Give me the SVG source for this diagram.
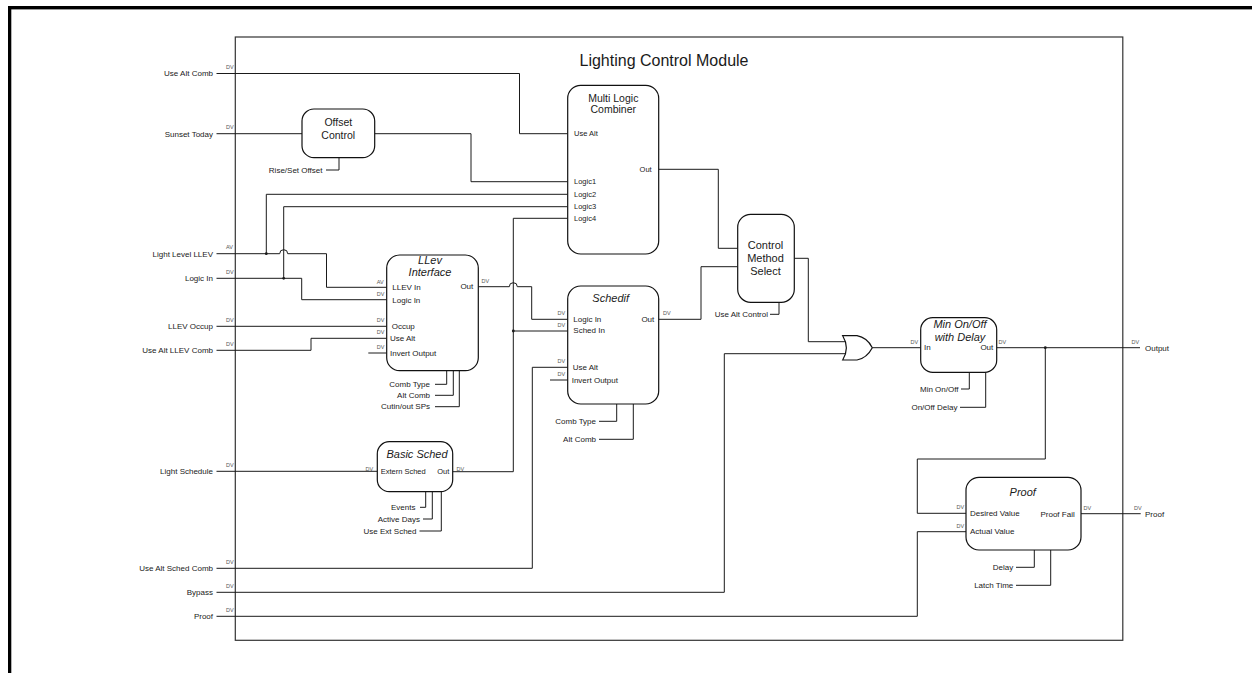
<svg xmlns="http://www.w3.org/2000/svg" width="1252" height="673" viewBox="0 0 1252 673">
<style>
text{font-family:"Liberation Sans",Arial,sans-serif;fill:#1a1a1a}
.l{font-size:8px}
.le{font-size:8px;text-anchor:end}
.pe{font-size:7.5px}
.dv{font-size:5.5px;fill:#555}
.t{font-size:10.5px;text-anchor:middle}
.ti{font-size:11px;text-anchor:middle;font-style:italic}
.ttl{font-size:16px;text-anchor:middle}
.box{fill:#fff;stroke:#111;stroke-width:1.2}
.w{fill:none;stroke:#1a1a1a;stroke-width:1}
.dot{fill:#1a1a1a}
</style>
<rect width="1252" height="673" fill="#fff"/>
<g id="frame">
<rect x="8" y="6" width="1244" height="3.4" fill="#000"/>
<rect x="8" y="6" width="3.3" height="667" fill="#000"/>
<rect x="235.3" y="37" width="887.5" height="603.3" fill="none" stroke="#333" stroke-width="1.2"/>
<text class="ttl" x="664" y="66">Lighting Control Module</text>
</g>
<g id="connectors">
<path class="w" d="M216.5 73.5 H519.5 V133.7 H567.7"/>
<path class="w" d="M216.5 133.7 H302"/>
<path class="w" d="M374.7 133.7 H471 V181.7 H567.7"/>
<path class="w" d="M326 170 H339 V157.7"/>
<path class="w" d="M216.5 253.7 H279.7 A4 4 0 0 1 287.7 253.7 H326.5 V287.3 H386.7"/>
<path class="w" d="M266.3 253.7 V194.3 H567.7"/>
<path class="w" d="M216.5 278.3 H301.7 V299.7 H386.7"/>
<path class="w" d="M283.7 278.3 V206.7 H567.7"/>
<path class="w" d="M216.5 326.3 H386.7"/>
<path class="w" d="M216.5 350.3 H311 V338.3 H386.7"/>
<path class="w" d="M368.3 353 H386.7"/>
<path class="w" d="M435 384.3 H446.7 V370.7"/>
<path class="w" d="M435 395.3 H453.3 V370.7"/>
<path class="w" d="M435 406.7 H459.3 V370.7"/>
<path class="w" d="M478.3 286.7 H509.3 A4 4 0 0 1 517.3 286.7 H531.7 V319.3 H567.7"/>
<path class="w" d="M452.7 471.7 H513.3 V218.3 H567.7"/>
<path class="w" d="M513.3 331 H567.7"/>
<path class="w" d="M216.5 471.3 H377.3"/>
<path class="w" d="M420 507.3 H425.7 V491.7"/>
<path class="w" d="M423 519 H432.3 V491.7"/>
<path class="w" d="M419.5 531 H441.3 V491.7"/>
<path class="w" d="M658.7 319.3 H701 V266.7 H737.7"/>
<path class="w" d="M216.5 568.3 H532.3 V367.3 H567.7"/>
<path class="w" d="M550 380 H567.7"/>
<path class="w" d="M599 421.3 H616.7 V404"/>
<path class="w" d="M599 439.3 H633.3 V404"/>
<path class="w" d="M658.7 169.3 H718.3 V248.3 H737.7"/>
<path class="w" d="M794.3 258.3 H808.3 V341.7 H846.5"/>
<path class="w" d="M770 314.3 H779 V302.3"/>
<path class="w" d="M216.5 592.3 H724.3 V353.7 H846.5"/>
<path class="w" d="M872.3 347.7 H920.7"/>
<path class="w" d="M961 389 H969.3 V372.3"/>
<path class="w" d="M960 407.3 H985.7 V372.3"/>
<path class="w" d="M996.7 347.7 H1140"/>
<path class="w" d="M1045.3 347.7 V459 H917.3 V513.3 H966"/>
<path class="w" d="M216.5 616.3 H917.3 V531.7 H966"/>
<path class="w" d="M1081 513.7 H1140.7"/>
<path class="w" d="M1016 567.3 H1034.3 V550"/>
<path class="w" d="M1016 585.3 H1050.7 V550"/>
<circle class="dot" cx="266.3" cy="253.7" r="1.4"/>
<circle class="dot" cx="283.7" cy="278.3" r="1.4"/>
<circle class="dot" cx="513.3" cy="331" r="1.4"/>
<circle class="dot" cx="1045.3" cy="347.7" r="1.4"/>
</g>
<g id="inputs">
<text class="le" x="213" y="76.3">Use Alt Comb</text>
<text class="le" x="213" y="136.5">Sunset Today</text>
<text class="le" x="213" y="256.5">Light Level LLEV</text>
<text class="le" x="213" y="281.1">Logic In</text>
<text class="le" x="213" y="329.1">LLEV Occup</text>
<text class="le" x="213" y="353.1">Use Alt LLEV Comb</text>
<text class="le" x="213" y="474.1">Light Schedule</text>
<text class="le" x="213" y="571.1">Use Alt Sched Comb</text>
<text class="le" x="213" y="595.1">Bypass</text>
<text class="le" x="213" y="619.1">Proof</text>
<text class="dv" x="226" y="69">DV</text>
<text class="dv" x="226" y="129">DV</text>
<text class="dv" x="226" y="249">AV</text>
<text class="dv" x="226" y="274">DV</text>
<text class="dv" x="226" y="322">DV</text>
<text class="dv" x="226" y="346">DV</text>
<text class="dv" x="226" y="467">DV</text>
<text class="dv" x="226" y="564">DV</text>
<text class="dv" x="226" y="588">DV</text>
<text class="dv" x="226" y="612">DV</text>
</g>
<g id="outputs">
<text class="dv" x="1131.5" y="343.5">DV</text>
<text class="l" x="1145" y="350.5">Output</text>
<text class="dv" x="1134" y="509.5">DV</text>
<text class="l" x="1145" y="516.5">Proof</text>
</g>
<g id="offset-control">
<rect class="box" x="302" y="109" width="72.7" height="48.7" rx="12"/>
<text class="t" x="338.3" y="125.5">Offset</text>
<text class="t" x="338.3" y="138.8">Control</text>
<text class="le" x="322.5" y="172.7">Rise/Set Offset</text>
</g>
<g id="multi-logic-combiner">
<rect class="box" x="567.7" y="85.3" width="91" height="168.7" rx="13"/>
<text class="t" x="613.3" y="102">Multi Logic</text>
<text class="t" x="613.3" y="113">Combiner</text>
<text class="pe" x="574" y="136.4">Use Alt</text>
<text class="pe" x="651.7" y="172" text-anchor="end">Out</text>
<text class="pe" x="574" y="184.4">Logic1</text>
<text class="pe" x="574" y="197">Logic2</text>
<text class="pe" x="574" y="209.4">Logic3</text>
<text class="pe" x="574" y="221">Logic4</text>
</g>
<g id="llev-interface">
<rect class="box" x="386.7" y="255" width="91.6" height="115.7" rx="13"/>
<text class="ti" x="430" y="264">LLev</text>
<text class="ti" x="430" y="276.3">Interface</text>
<text class="l" x="392.3" y="290">LLEV In</text>
<text class="l" x="392.3" y="302.6">Logic In</text>
<text class="l" x="391.7" y="328.5">Occup</text>
<text class="l" x="390" y="341">Use Alt</text>
<text class="l" x="390" y="356">Invert Output</text>
<text class="l" x="473.3" y="289.4" text-anchor="end">Out</text>
<text class="dv" x="376.7" y="283.5">AV</text>
<text class="dv" x="376.7" y="295.7">DV</text>
<text class="dv" x="376.7" y="322.3">DV</text>
<text class="dv" x="376.7" y="334.3">DV</text>
<text class="dv" x="376.7" y="349">DV</text>
<text class="dv" x="481.5" y="282.7">DV</text>
<text class="le" x="430" y="387">Comb Type</text>
<text class="le" x="430" y="398">Alt Comb</text>
<text class="le" x="430" y="409.4">Cutin/out SPs</text>
</g>
<g id="schedif">
<rect class="box" x="567.7" y="286" width="91" height="118" rx="13"/>
<text class="ti" x="610.7" y="302">Schedif</text>
<text class="l" x="573.3" y="321.5">Logic In</text>
<text class="l" x="573.3" y="333">Sched In</text>
<text class="l" x="572.7" y="369.7">Use Alt</text>
<text class="l" x="571.7" y="383">Invert Output</text>
<text class="l" x="654.3" y="321.5" text-anchor="end">Out</text>
<text class="dv" x="557.5" y="315.3">DV</text>
<text class="dv" x="557.5" y="327">DV</text>
<text class="dv" x="557.5" y="363.3">DV</text>
<text class="dv" x="557.5" y="376">DV</text>
<text class="dv" x="663" y="315.3">DV</text>
<text class="le" x="596" y="424">Comb Type</text>
<text class="le" x="596" y="442">Alt Comb</text>
</g>
<g id="basic-sched">
<rect class="box" x="377.3" y="441.7" width="75.4" height="50" rx="12"/>
<text class="ti" x="417" y="458">Basic Sched</text>
<text class="l" x="380.7" y="474.3" style="font-size:7.5px">Extern Sched</text>
<text class="l" x="449.3" y="474.3" text-anchor="end" style="font-size:7.5px">Out</text>
<text class="dv" x="365.5" y="471">DV</text>
<text class="dv" x="456.5" y="471">DV</text>
<text class="le" x="415.5" y="510">Events</text>
<text class="le" x="420" y="521.7">Active Days</text>
<text class="le" x="416.5" y="533.7">Use Ext Sched</text>
</g>
<g id="control-method-select">
<rect class="box" x="737.7" y="214.3" width="56.6" height="88" rx="13"/>
<text class="t" x="765.5" y="249" style="font-size:11px">Control</text>
<text class="t" x="765.5" y="262.3" style="font-size:11px">Method</text>
<text class="t" x="765.5" y="275" style="font-size:11px">Select</text>
<text class="le" x="768" y="317">Use Alt Control</text>
</g>
<g id="or-gate">
<path class="box" d="M842.7 335.7 H857 Q867 337.5 872.3 347.7 Q867 358 857 360 H842.7 Q850 347.8 842.7 335.7 Z"/>
</g>
<g id="min-onoff-delay">
<rect class="box" x="920.7" y="317.7" width="76" height="54.6" rx="12"/>
<text class="ti" x="960" y="328.3">Min On/Off</text>
<text class="ti" x="960" y="341">with Delay</text>
<text class="l" x="924" y="350">In</text>
<text class="l" x="993.3" y="350" text-anchor="end">Out</text>
<text class="dv" x="910.5" y="343.5">DV</text>
<text class="dv" x="998.5" y="343.5">DV</text>
<text class="le" x="958.5" y="391.7">Min On/Off</text>
<text class="le" x="957.5" y="410">On/Off Delay</text>
</g>
<g id="proof">
<rect class="box" x="966" y="477.3" width="115" height="72.7" rx="13"/>
<text class="ti" x="1022.7" y="496">Proof</text>
<text class="l" x="970" y="516">Desired Value</text>
<text class="l" x="970" y="534">Actual Value</text>
<text class="l" x="1074.7" y="516.7" text-anchor="end">Proof Fail</text>
<text class="dv" x="956.5" y="509.3">DV</text>
<text class="dv" x="956.5" y="527.5">DV</text>
<text class="dv" x="1083.5" y="509.5">DV</text>
<text class="le" x="1013.3" y="570">Delay</text>
<text class="le" x="1013.3" y="588">Latch Time</text>
</g>
</svg>
